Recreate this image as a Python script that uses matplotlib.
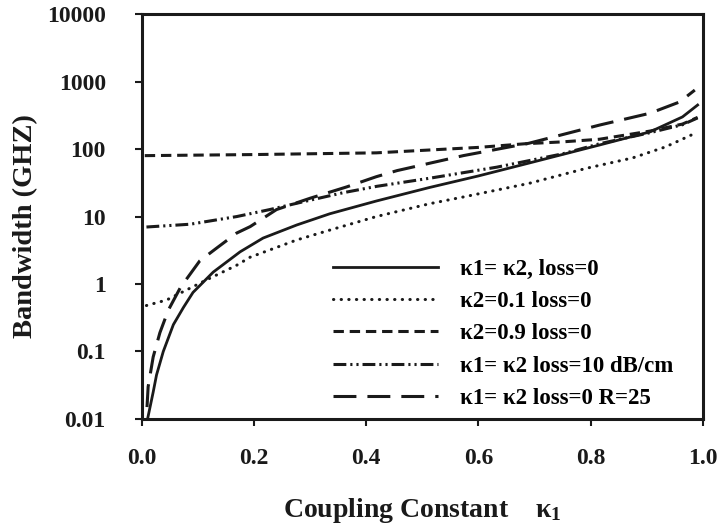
import numpy as np
import matplotlib
matplotlib.use('Agg')
import matplotlib.pyplot as plt

plt.rcParams['font.family'] = ['Liberation Serif', 'DejaVu Serif']
plt.rcParams['font.weight'] = 'bold'
plt.rcParams['mathtext.fontset'] = 'custom'
plt.rcParams['mathtext.rm'] = 'Liberation Serif:bold'
plt.rcParams['mathtext.bf'] = 'Liberation Serif:bold'
plt.rcParams['mathtext.default'] = 'bf'

# values
x_solid = [0.01, 0.02, 0.026, 0.038, 0.056, 0.074, 0.091, 0.127, 0.175, 0.216, 0.276,
           0.335, 0.418, 0.513, 0.6, 0.69, 0.816, 0.906, 0.964, 0.991]
y_solid = [0.01, 0.025, 0.045, 0.1, 0.25, 0.45, 0.75, 1.5, 3.0, 4.8, 7.5,
           11, 17, 27, 40, 62, 115, 180, 300, 450]

x_dot = [0.008, 0.044, 0.086, 0.115, 0.169, 0.193, 0.276, 0.335, 0.418, 0.513, 0.573,
         0.69, 0.793, 0.875, 0.934, 0.982]
y_dot = [0.48, 0.58, 0.87, 1.15, 1.9, 2.5, 4.5, 6.3, 10, 15.5, 19.5,
         31, 52, 74, 108, 165]

x_k09 = [0.005, 0.2, 0.418, 0.513, 0.6, 0.683, 0.75, 0.816, 0.906, 0.964, 0.991]
y_k09 = [80, 83, 88, 97, 106, 120, 128, 140, 185, 235, 295]

x_loss = [0.008, 0.086, 0.169, 0.228, 0.288, 0.358, 0.418, 0.513, 0.633, 0.75, 0.816,
          0.906, 0.964, 0.991]
y_loss = [7.0, 7.7, 10, 12.7, 16.6, 22.5, 28, 37, 54, 85, 120, 175, 230, 290]

x_r25 = [0.009, 0.011, 0.02, 0.032, 0.047, 0.068, 0.08, 0.103, 0.133, 0.169, 0.193,
         0.24, 0.3, 0.365, 0.418, 0.455, 0.573, 0.69, 0.816, 0.906, 0.959, 0.986]
y_r25 = [0.015, 0.03, 0.083, 0.19, 0.41, 0.87, 1.2, 2.2, 3.4, 5.7, 7.1,
         12.7, 18.7, 27.5, 39, 48, 80, 122, 227, 340, 500, 750]

labels = ['κ1= κ2, loss=0', 'κ2=0.1 loss=0', 'κ2=0.9 loss=0',
          'κ1= κ2 loss=10 dB/cm', 'κ1= κ2 loss=0 R=25']

fig = plt.figure(figsize=(7.17, 5.25), dpi=100)
ax = fig.add_axes([0.198, 0.202, 0.782, 0.771])

ink = '#1a1a1a'
ax.plot(x_solid, y_solid, color=ink, lw=2, label=labels[0])
ax.plot(x_dot, y_dot, color=ink, lw=2.2, dashes=(0.1, 2.4),
        dash_capstyle='round', label=labels[1])
ax.plot(x_k09, y_k09, color=ink, lw=2.2, dashes=(3.4, 1.9), label=labels[2])
ax.plot(x_loss, y_loss, color=ink, lw=2.2,
        dashes=(4.2, 1.3, 0.7, 1.3, 0.7, 1.3), label=labels[3])
ax.plot(x_r25, y_r25, color=ink, lw=2.2, dashes=(7.5, 3.6), label=labels[4])

ax.set_yscale('log')
ax.set_xlim(0, 1.0)
ax.set_ylim(0.01, 10000)
ax.set_xticks([0, 0.2, 0.4, 0.6, 0.8, 1.0])
ax.set_xticklabels(['0.0', '0.2', '0.4', '0.6', '0.8', '1.0'])
ax.set_yticks([0.01, 0.1, 1, 10, 100, 1000, 10000])
ax.set_yticklabels(['0.01', '0.1', '1', '10', '100', '1000', '10000'])
ax.minorticks_off()
ax.tick_params(direction='out', length=5, width=1.5, labelsize=17, colors=ink)
ax.tick_params(axis='y', pad=21)
ax.tick_params(axis='x', pad=16)
for s in ax.spines.values():
    s.set_linewidth(2.2)
    s.set_color(ink)

ax.set_ylabel('Bandwidth (GHZ)', fontsize=20.5, fontweight='bold', color=ink)
ax.yaxis.set_label_coords(-0.186, 0.477)
ax.set_xlabel('Coupling Constant    κ$_1$', fontsize=20, fontweight='bold', color=ink)
ax.xaxis.set_label_coords(0.5, -0.19)

ax.legend(loc='lower left', bbox_to_anchor=(0.34, 0.025), frameon=False,
          borderpad=0, borderaxespad=0,
          handlelength=4.6, handletextpad=0.96, labelspacing=0.49,
          prop={'family': ['Liberation Serif', 'DejaVu Serif'], 'weight': 'bold', 'size': 16.5})

fig.savefig('out.png', dpi=100)
